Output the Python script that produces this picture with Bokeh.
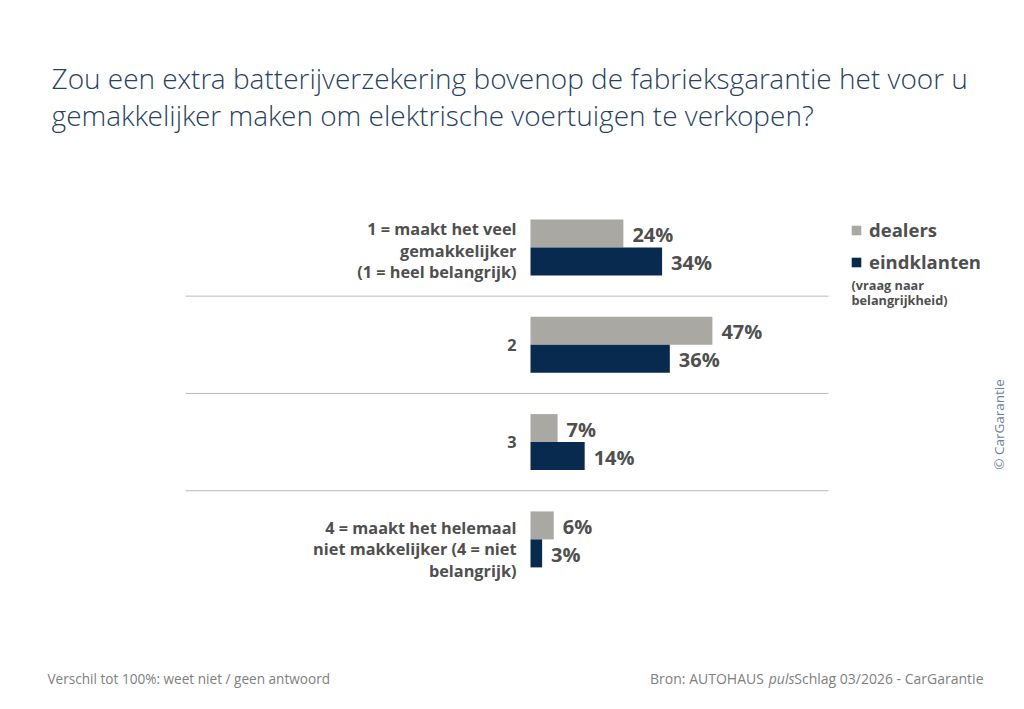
from math import pi

from bokeh.embed import file_html
from bokeh.models import ColumnDataSource, Legend, LegendItem, Range1d
from bokeh.plotting import figure
from bokeh.resources import INLINE
from bokeh.core.properties import value

# --- data -------------------------------------------------------------
categories = [
    ["1 = maakt het veel", "gemakkelijker", "(1 = heel belangrijk)"],
    ["2"],
    ["3"],
    ["4 = maakt het helemaal", "niet makkelijker (4 = niet", "belangrijk)"],
]
dealers = [24, 47, 7, 6]
eindklanten = [34, 36, 14, 3]
series_names = ["dealers", "eindklanten"]

title_lines = [
    "Zou een extra batterijverzekering bovenop de fabrieksgarantie het voor u",
    "gemakkelijker maken om elektrische voertuigen te verkopen?",
]
legend_note = ["(vraag naar", "belangrijkheid)"]
footnote = "Verschil tot 100%: weet niet / geen antwoord"
source_parts = ["Bron: AUTOHAUS\u00a0", "puls", "Schlag 03/2026 - CarGarantie"]
copyright_text = "\u00a9 CarGarantie"

# --- layout -----------------------------------------------------------
W, H = 1024, 709
X0, PX = 530.0, 3.87     # pixel where 0% sits, pixels per percent
Y0, GAP = 247.0, 97.3    # pixel of first group centre, pixels per group
BAR_PX = 28.0

GREY = "#a9a8a2"
NAVY = "#072a4e"
TEXT = "#4f4f4f"
TITLE = "#27415f"
FONT = "Open Sans"
LIGHT = "Open Sans Light, Open Sans"


def sx(px):
    return (px - X0) / PX


def sy(py):
    return (py - Y0) / GAP


p = figure(
    width=W, height=H,
    x_range=Range1d(sx(0), sx(W)),
    y_range=Range1d(sy(H), sy(0)),
    x_axis_type=None, y_axis_type=None,
    toolbar_location=None, output_backend="svg",
    min_border=0, outline_line_color=None,
    background_fill_color="white", border_fill_color="white",
)
p.xgrid.visible = False
p.ygrid.visible = False

n = len(dealers)
bh = BAR_PX / GAP
groups = list(range(n))

src = ColumnDataSource(dict(
    g=groups,
    y_d=[g - bh / 2 for g in groups],
    y_e=[g + bh / 2 for g in groups],
    dealers=dealers,
    eind=eindklanten,
    lab_d=[f"{v}%" for v in dealers],
    lab_e=[f"{v}%" for v in eindklanten],
))

r_d = p.hbar(y="y_d", left=0, right="dealers", height=bh, source=src,
             fill_color=GREY, line_color=None)
r_e = p.hbar(y="y_e", left=0, right="eind", height=bh, source=src,
             fill_color=NAVY, line_color=None)

# value labels at the end of each bar
gap_x = 9 / PX
for col, ycol, lab in (("dealers", "y_d", "lab_d"), ("eind", "y_e", "lab_e")):
    vsrc = ColumnDataSource(dict(
        x=[v + gap_x for v in src.data[col]],
        y=[y + 1 / GAP for y in src.data[ycol]],
        t=src.data[lab],
    ))
    p.text(x="x", y="y", text="t", source=vsrc, text_font=value(FONT),
           text_font_style="bold", text_font_size="20px", text_color=TEXT,
           text_align="left", text_baseline="middle")

# separators between groups
sep_y = [g + 0.5 for g in groups[:-1]]
p.segment(x0=[sx(185)] * len(sep_y), x1=[sx(828)] * len(sep_y),
          y0=sep_y, y1=sep_y, line_color="#b9b9b9", line_width=1)

# category labels (right aligned, left of the bars)
nudge = [3, 0, 0, 10]
line_h = 21.5
lx, ly, lt = [], [], []
for g, lines in enumerate(categories):
    k = len(lines)
    for i, t in enumerate(lines):
        lx.append(sx(516))
        ly.append(g + (nudge[g] + (i - (k - 1) / 2) * line_h) / GAP)
        lt.append(t)
p.text(x=lx, y=ly, text=lt, text_font=value(FONT), text_font_style="bold",
       text_font_size="16.3px", text_color=TEXT, text_align="right",
       text_baseline="middle")

# title
p.text(x=[sx(51)] * 2, y=[sy(77), sy(114)], text=title_lines,
       text_font=value(LIGHT), text_font_size="28px", text_color=TITLE,
       text_align="left", text_baseline="middle")

# legend
legend = Legend(
    items=[LegendItem(label=series_names[0], renderers=[r_d]),
           LegendItem(label=series_names[1], renderers=[r_e])],
    location=(850, H - 274),
    orientation="vertical",
    glyph_width=12, glyph_height=12, label_height=24, label_standoff=7,
    spacing=7, padding=0, margin=0,
    border_line_color=None, background_fill_alpha=0,
    label_text_font=FONT, label_text_font_style="bold",
    label_text_font_size="18.5px", label_text_color=TEXT,
)
p.add_layout(legend)

p.text(x=[sx(851)] * 2, y=[sy(284), sy(299)], text=legend_note,
       text_font=value(FONT), text_font_style="bold", text_font_size="12.7px",
       text_color=TEXT, text_align="left", text_baseline="middle")

# footer
FOOT = "#808080"
p.text(x=[sx(47)], y=[sy(678)], text=[footnote], text_font=value(FONT),
       text_font_size="13.6px", text_color=FOOT, text_align="left",
       text_baseline="middle")
# source line, built right to left from its right edge
src_right = [650 + 117, 767 + 27, 983]
src_style = ["normal", "italic", "normal"]
for xx, t, st in zip(src_right, source_parts, src_style):
    p.text(x=[sx(xx)], y=[sy(678)], text=[t], text_font=value(FONT),
           text_font_size="14px", text_font_style=st, text_color=FOOT,
           text_align="right", text_baseline="middle")

p.text(x=[sx(998)], y=[sy(424)], text=[copyright_text], angle=pi / 2,
       text_font=value(FONT), text_font_size="13.5px", text_color="#70819a",
       text_align="center", text_baseline="middle")

open("out.html", "w").write(file_html(p, INLINE))
